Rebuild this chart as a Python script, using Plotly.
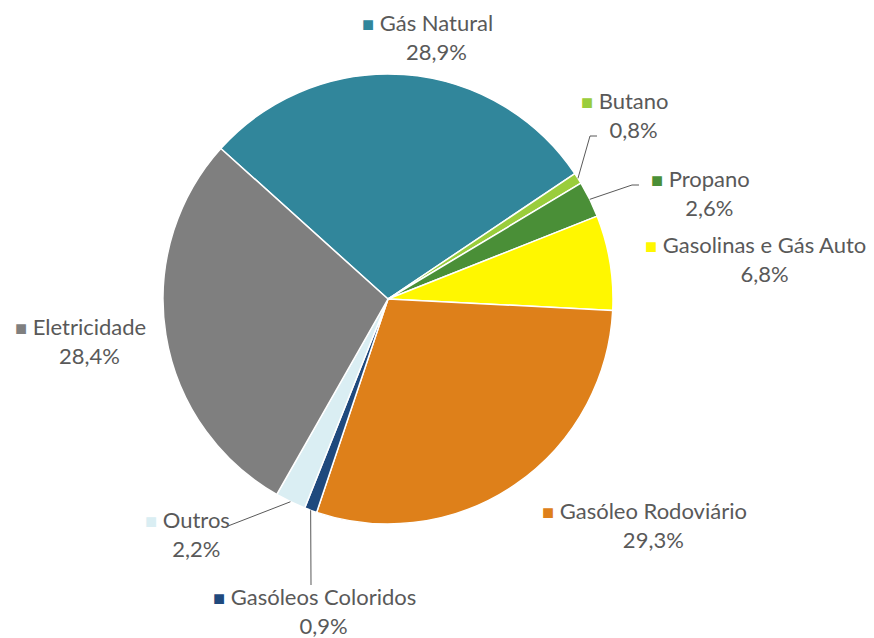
import math
import plotly.graph_objects as go

W, H = 874, 638

# data, clockwise starting at the Gás Natural slice
labels = [
    "Gás Natural",
    "Butano",
    "Propano",
    "Gasolinas e Gás Auto",
    "Gasóleo Rodoviário",
    "Gasóleos Coloridos",
    "Outros",
    "Eletricidade",
]
values = [28.9, 0.8, 2.6, 6.8, 29.3, 0.9, 2.2, 28.4]
colors = [
    "#31869B",
    "#9ACD3C",
    "#4A8F37",
    "#FFF700",
    "#DE801A",
    "#1F497D",
    "#DAEEF3",
    "#7F7F7F",
]

# pie geometry (pixels)
cx, cy, r = 388, 299, 225
start_angle = -48

# label block centres (pixels) and leader-line bends
label_pos = {
    "Gás Natural": (427, 37),
    "Butano": (625, 115),
    "Propano": (700, 193),
    "Gasolinas e Gás Auto": (755, 259),
    "Gasóleo Rodoviário": (644, 525),
    "Gasóleos Coloridos": (314, 611),
    "Outros": (187, 534),
    "Eletricidade": (80, 341),
}
leaders = {
    "Butano": [(590, 136), (597, 136)],
    "Propano": [(632, 185), (639, 185)],
    "Outros": [(228, 526)],
    "Gasóleos Coloridos": [(311, 585)],
}

TEXT = "#595959"
FONT = "Lato, 'Open Sans', sans-serif"


def px(x, y):
    return x / W, 1 - y / H


fig = go.Figure(
    go.Pie(
        labels=labels,
        values=values,
        marker=dict(colors=colors, line=dict(color="white", width=1.5)),
        sort=False,
        direction="clockwise",
        rotation=start_angle,
        textinfo="none",
        hoverinfo="label+percent",
        showlegend=False,
        domain=dict(
            x=[(cx - r) / W, (cx + r) / W],
            y=[1 - (cy + r) / H, 1 - (cy - r) / H],
        ),
    )
)

annotations = []
for name, val, col in zip(labels, values, colors):
    x, y = px(*label_pos[name])
    pct = f"{val:.1f}".replace(".", ",") + "%"
    sq = f"<span style='font-size:20px;color:{col}'>■</span> "
    ghost = "<span style='font-size:20px;color:rgba(0,0,0,0)'>■</span> "
    annotations.append(
        dict(
            x=x,
            y=y,
            xref="paper",
            yref="paper",
            text=f"{sq}{name}<br>{ghost}{pct}",
            showarrow=False,
            xanchor="center",
            yanchor="middle",
            align="center",
            font=dict(family=FONT, size=22, color=TEXT),
        )
    )

# leader lines from the middle of each small slice edge
total = sum(values)
shapes = []
cum = 0
for name, val in zip(labels, values):
    mid = start_angle + 360 * (cum + val / 2) / total
    cum += val
    if name not in leaders:
        continue
    a = math.radians(mid)
    pts = [(cx + r * math.sin(a), cy - r * math.cos(a))] + leaders[name]
    path = ""
    for i, (x, y) in enumerate(pts):
        X, Y = px(x, y)
        path += ("M" if i == 0 else " L") + f" {X:.5f} {Y:.5f}"
    shapes.append(
        dict(
            type="path",
            path=path,
            xref="paper",
            yref="paper",
            line=dict(color=TEXT, width=1),
        )
    )

fig.update_layout(
    width=W,
    height=H,
    margin=dict(l=0, r=0, t=0, b=0),
    paper_bgcolor="white",
    plot_bgcolor="white",
    annotations=annotations,
    shapes=shapes,
    font=dict(family=FONT, color=TEXT),
)

fig.write_html(
    "out.html",
    config={"displayModeBar": False},
    post_script="document.body.style.margin='0';document.body.style.overflow='hidden';",
)
